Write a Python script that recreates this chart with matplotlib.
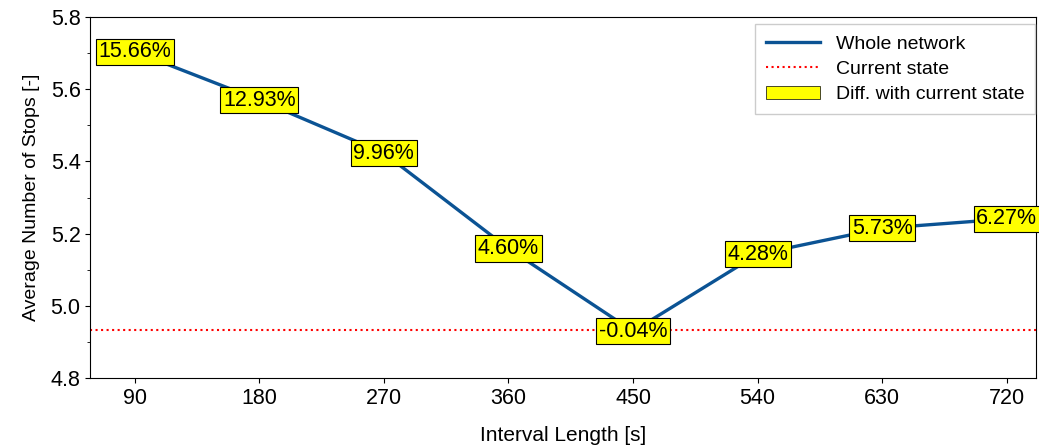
import matplotlib.pyplot as plt

plt.rcParams['font.family'] = ['Liberation Sans', 'DejaVu Sans']

intervals = [90, 180, 270, 360, 450, 540, 630, 720]
avg_stops = [5.704, 5.570, 5.423, 5.159, 4.930, 5.143, 5.215, 5.241]
diff_labels = ["15.66%", "12.93%", "9.96%", "4.60%", "-0.04%", "4.28%", "5.73%", "6.27%"]
current_state = 4.932

fig, ax = plt.subplots(figsize=(10.39, 4.47), dpi=100)
fig.subplots_adjust(left=0.087, right=0.997, top=0.962, bottom=0.154)

ax.plot(intervals, avg_stops, color='#0b5394', lw=2.4, label="Whole network", zorder=2)
ax.axhline(current_state, color='red', ls=':', lw=1.5, label="Current state", zorder=1)

for x, y, t in zip(intervals, avg_stops, diff_labels):
    ax.text(x, y, t, ha='center', va='center', fontsize=15.5, zorder=3,
            bbox=dict(boxstyle='square,pad=0.12', facecolor='yellow', edgecolor='black', linewidth=0.8))

# proxy for the yellow label boxes
ax.fill_between([], [], [], facecolor='yellow', edgecolor='black', linewidth=0.5,
                label="Diff. with current state")

ax.set_xlim(58, 741)
ax.set_ylim(4.8, 5.8)
ax.set_xticks(intervals)
ax.set_yticks([4.8, 5.0, 5.2, 5.4, 5.6, 5.8])
ax.set_yticks([4.9, 5.1, 5.3, 5.5, 5.7], minor=True)
ax.tick_params(axis='both', labelsize=15.5)
ax.set_xlabel("Interval Length [s]", fontsize=15, labelpad=12)
ax.set_ylabel("Average Number of Stops [-]", fontsize=14, labelpad=8)

ax.legend(loc='upper right', fontsize=14, fancybox=False, framealpha=1,
          edgecolor='#cccccc', borderpad=0.55, handlelength=2.8, labelspacing=0.4,
          bbox_to_anchor=(0.999, 0.98), borderaxespad=0)

plt.savefig("out.png", dpi=100)
